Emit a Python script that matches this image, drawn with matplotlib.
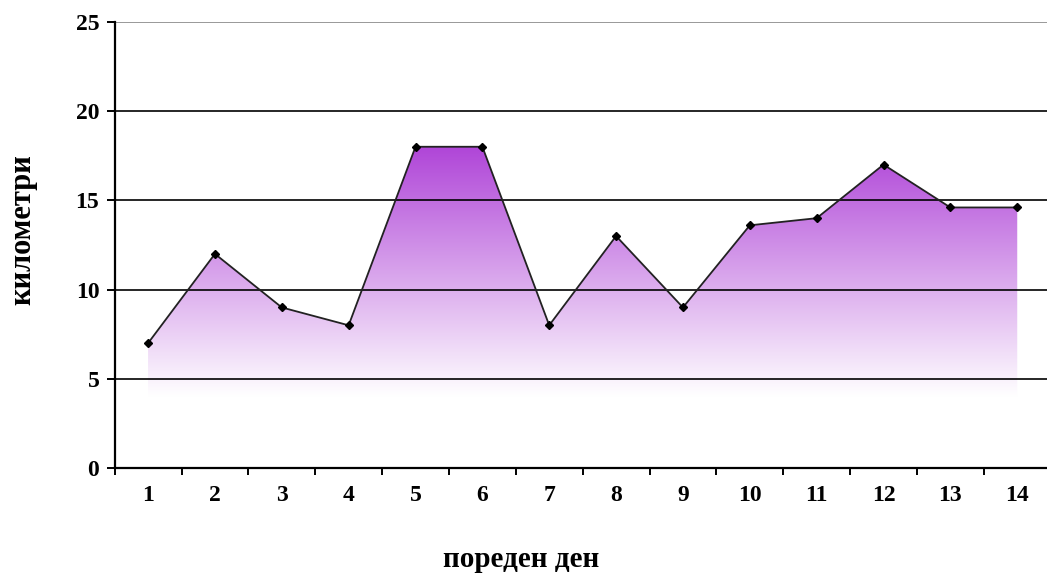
import matplotlib.pyplot as plt
import numpy as np
from matplotlib.colors import LinearSegmentedColormap
from matplotlib.ticker import FixedLocator

days = list(range(1, 15))
km = [7, 12, 9, 8, 18, 18, 8, 13, 9, 13.6, 14, 17, 14.6, 14.6]
y_ticks = [0, 5, 10, 15, 20, 25]

plt.rcParams['font.family'] = ['Liberation Serif', 'DejaVu Serif']
plt.rcParams['font.weight'] = 'bold'

fig = plt.figure(figsize=(10.47, 5.73), dpi=100)
ax = fig.add_axes([0.1095, 0.183, 0.894, 0.779])

x = np.arange(len(days))
ax.set_xlim(-0.5, len(days) - 0.5)
ax.set_ylim(0, 25)

# gradient fill under the line, clipped to the area polygon
poly = ax.fill_between(x, km, 0, color='none', lw=0)
cmap = LinearSegmentedColormap.from_list('fade', ['#ffffff', '#b046d8'])
grad = np.linspace(0, 1, 256).reshape(-1, 1)
img = ax.imshow(grad, cmap=cmap, aspect='auto', origin='lower',
                extent=(x[0], x[-1], 4.0, max(km)), zorder=1)
img.set_clip_path(poly.get_paths()[0], transform=ax.transData)

for y in y_ticks[1:-1]:
    ax.axhline(y, color='black', lw=1.4, zorder=2, alpha=0.85)
ax.axhline(25, color='#999999', lw=1.4, zorder=2)

ax.plot(x, km, color='#222222', lw=1.3, marker='D', ms=4.5,
        mfc='black', mec='black', zorder=3)

ax.spines['top'].set_visible(False)
ax.spines['right'].set_visible(False)
ax.spines['left'].set_linewidth(1.6)
ax.spines['bottom'].set_linewidth(1.6)

ax.set_yticks(y_ticks)
ax.set_xticks(x)
ax.set_xticklabels([str(d) for d in days])
ax.tick_params(axis='x', length=0, labelsize=17, pad=12)
ax.xaxis.set_minor_locator(FixedLocator(np.arange(-0.5, len(days), 1.0)))
ax.tick_params(axis='x', which='minor', length=5, width=1.4, direction='out')
ax.tick_params(axis='y', length=6, width=1.4, labelsize=17, pad=5)

ax.set_ylabel('километри', fontsize=22, fontweight='bold')
ax.yaxis.set_label_coords(-0.083, 0.534)
ax.set_xlabel('пореден ден', fontsize=21, fontweight='bold')
ax.xaxis.label.set_va('baseline')
ax.xaxis.set_label_coords(0.434, -0.222)

fig.savefig('out.png', dpi=100)
